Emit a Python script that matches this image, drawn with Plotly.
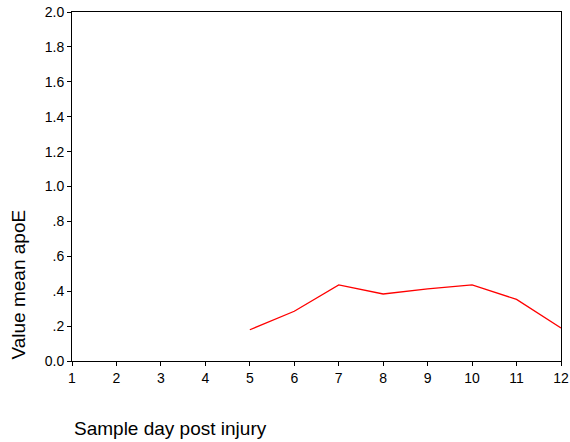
import plotly.graph_objects as go

days = [5, 6, 7, 8, 9, 10, 11, 12]
mean_apoe = [0.179, 0.285, 0.436, 0.384, 0.413, 0.436, 0.353, 0.189]

x_ticks = list(range(1, 13))
y_tickvals = [0.0, 0.2, 0.4, 0.6, 0.8, 1.0, 1.2, 1.4, 1.6, 1.8, 2.0]
y_ticktext = ["0.0", ".2", ".4", ".6", ".8", "1.0", "1.2", "1.4", "1.6", "1.8", "2.0"]

font_family = "Liberation Sans, Arial, sans-serif"

fig = go.Figure()
fig.add_trace(go.Scatter(x=days, y=mean_apoe, mode="lines",
                         line=dict(color="#ff0000", width=1.3),
                         showlegend=False, hoverinfo="skip"))

fig.update_layout(
    width=570, height=442,
    margin=dict(l=72, r=9, t=12, b=81),
    paper_bgcolor="white", plot_bgcolor="white",
    font=dict(family=font_family, color="black", size=14),
    xaxis=dict(range=[1, 12], tickvals=x_ticks, ticktext=[str(v) for v in x_ticks],
               showgrid=False, zeroline=False, showline=True, linecolor="black",
               linewidth=1, mirror=True, ticks="outside", ticklen=4, tickcolor="black",
               automargin=False, tickfont=dict(size=14, family=font_family)),
    yaxis=dict(range=[0, 2.0], tickvals=y_tickvals, ticktext=y_ticktext,
               showgrid=False, zeroline=False, showline=True, linecolor="black",
               linewidth=1, mirror=True, ticks="outside", ticklen=4, tickcolor="black",
               automargin=False, tickfont=dict(size=14, family=font_family)),
    annotations=[
        dict(text="Sample day post injury", xref="paper", yref="paper",
             x=0, y=-(428 - 361) / 349, xanchor="left", yanchor="middle",
             showarrow=False, font=dict(size=19, family=font_family)),
        dict(text="Value mean apoE", xref="paper", yref="paper",
             x=-(72 - 18) / 489, y=(361 - 284.5) / 349, xanchor="center", yanchor="middle",
             textangle=-90, showarrow=False, font=dict(size=19, family=font_family)),
    ],
)

fig.write_html(
    "out.html",
    config={"displayModeBar": False},
    post_script="document.body.style.margin='0';document.body.style.overflow='hidden';",
)
